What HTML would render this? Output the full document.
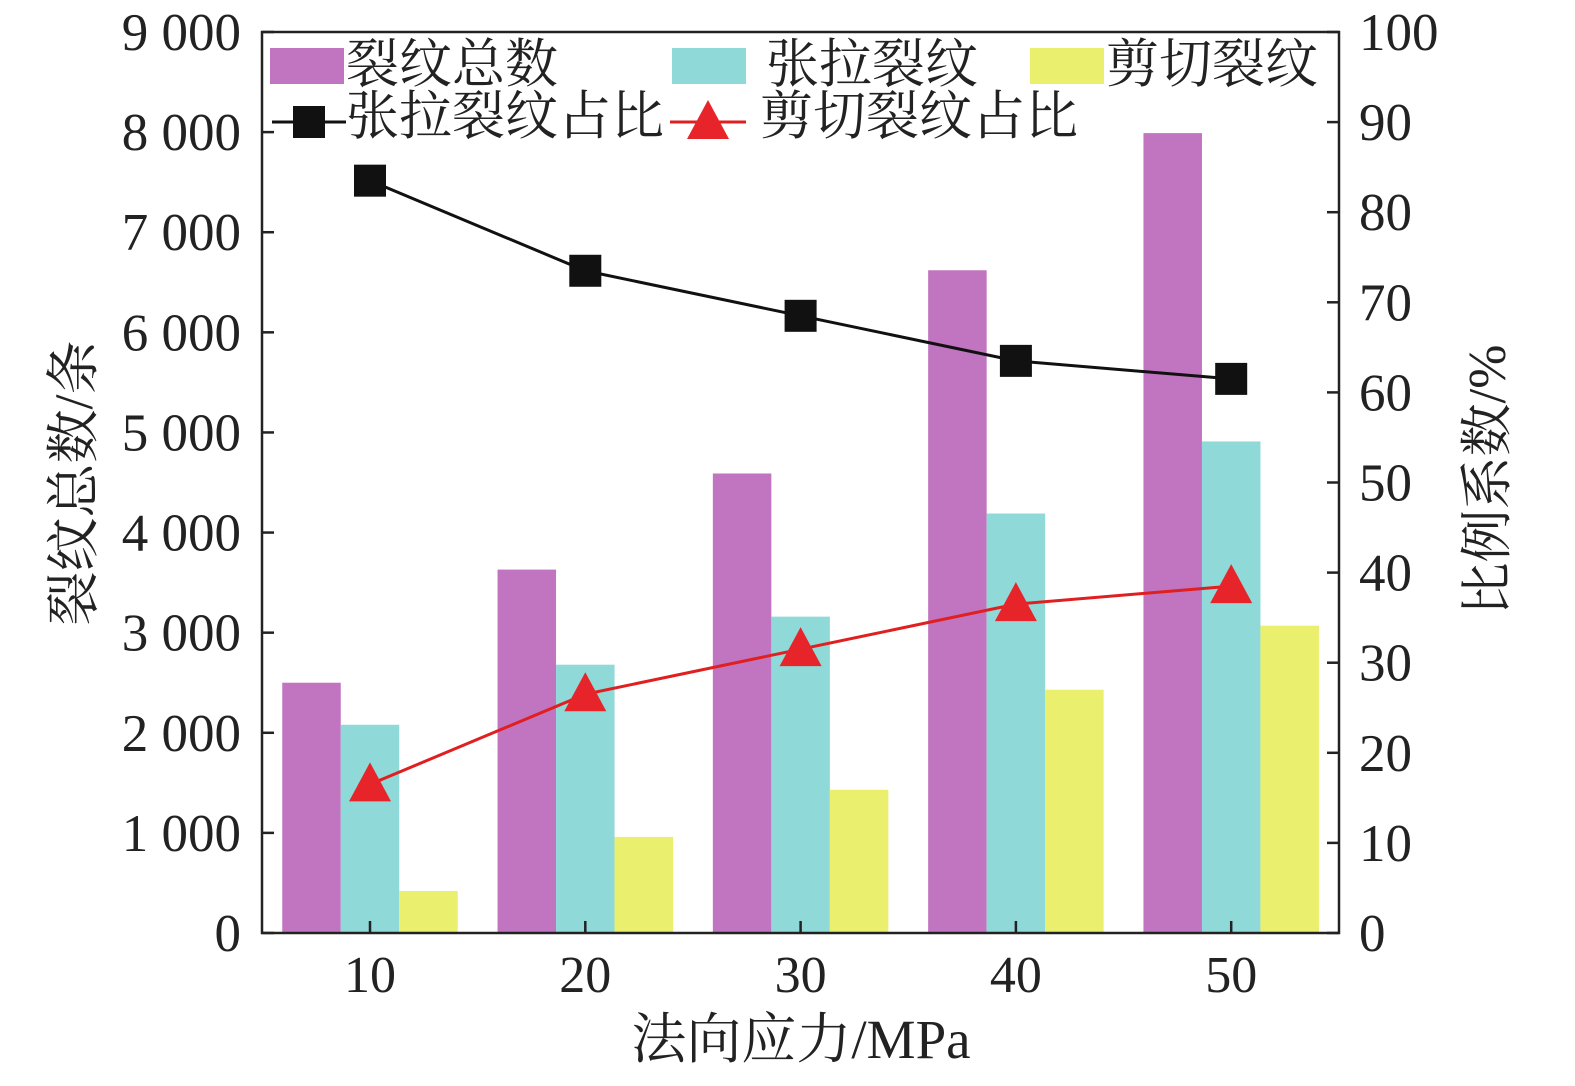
<!DOCTYPE html>
<html><head><meta charset="utf-8"><style>
html,body{margin:0;padding:0;background:#fff;}
svg text{font-family:"Liberation Serif","Noto Serif CJK SC",serif;fill:#222;}
</style></head><body>
<svg id="chart" width="1575" height="1081" xmlns="http://www.w3.org/2000/svg">
<g id="bars"></g>
<g id="lines"></g>
<g id="axes"></g>
<g id="legend"></g>
</svg>
<script>
const categories=[10,20,30,40,50];
const totalCracks=[2500,3630,4590,6620,7990];
const tensileCracks=[2080,2680,3160,4190,4910];
const shearCracks=[420,960,1430,2430,3070];
const tensileRatio=[83.5,73.5,68.5,63.5,61.5];
const shearRatio=[16.5,26.5,31.5,36.5,38.5];
const leftTicks=[0,1000,2000,3000,4000,5000,6000,7000,8000,9000];
const leftTickLabels=["0","1 000","2 000","3 000","4 000","5 000","6 000","7 000","8 000","9 000"];
const rightTicks=[0,10,20,30,40,50,60,70,80,90,100];

const NS="http://www.w3.org/2000/svg";
const L=262,R=1339,T=32,B=933;
const xPos=i=>370+i*215.3;
const yL=v=>B-(v/9000)*(B-T);
const yR=v=>B-(v/100)*(B-T);
function mk(tag,attrs,parent,text){const e=document.createElementNS(NS,tag);for(const k in attrs)e.setAttribute(k,attrs[k]);if(text!==undefined)e.textContent=text;parent.appendChild(e);return e;}
const bars=document.getElementById('bars'),lines=document.getElementById('lines'),axes=document.getElementById('axes'),legend=document.getElementById('legend');
const bw=58.5;
const series=[[totalCracks,'#c174c0',-1.5,'bar-total'],[tensileCracks,'#8fd9d8',-0.5,'bar-tensile'],[shearCracks,'#eaf06e',0.5,'bar-shear']];
series.forEach(s=>{s[0].forEach((v,i)=>{
 const r=mk('rect',{x:xPos(i)+s[2]*bw,y:yL(v),width:bw,height:B-yL(v),fill:s[1]},bars);
 
 
});});
function poly(vals,color,name){
 const p=mk('polyline',{points:vals.map((v,i)=>xPos(i)+','+yR(v)).join(' '),fill:'none',stroke:color,'stroke-width':3},lines);
 
 
}
poly(tensileRatio,'#111','tensile-ratio-line');
poly(shearRatio,'#e02020','shear-ratio-line');
tensileRatio.forEach((v,i)=>{const r=mk('rect',{x:xPos(i)-16,y:yR(v)-16,width:32,height:32,fill:'#111'},lines);
 
 });
shearRatio.forEach((v,i)=>{const x=xPos(i),y=yR(v);const t=mk('polygon',{points:`${x},${y-22} ${x-21},${y+17} ${x+21},${y+17}`,fill:'#e8242b'},lines);
 
 });
const f=mk('rect',{x:L,y:T,width:R-L,height:B-T,fill:'none',stroke:'#222','stroke-width':2.5},axes);


leftTicks.forEach((v,i)=>{const y=yL(v);
 mk('line',{x1:L,x2:L+12,y1:y,y2:y,stroke:'#222','stroke-width':2.5},axes);
 const t=mk('text',{x:241,y:y+18,'text-anchor':'end','font-size':53},axes,leftTickLabels[i]);
 
 });
rightTicks.forEach(v=>{const y=yR(v);
 mk('line',{x1:R-12,x2:R,y1:y,y2:y,stroke:'#222','stroke-width':2.5},axes);
 const t=mk('text',{x:1359,y:y+18,'font-size':53},axes,String(v));
 
 });
categories.forEach((c,i)=>{const x=xPos(i);
 mk('line',{x1:x,x2:x,y1:B,y2:B-12,stroke:'#222','stroke-width':2.5},axes);
 const t=mk('text',{x:x,y:992,'text-anchor':'middle','font-size':52},axes,String(c));
 
 });
let t=mk('text',{x:801,y:1058,'text-anchor':'middle','font-size':55},axes,'法向应力/MPa');

t=mk('text',{x:0,y:0,'text-anchor':'middle','font-size':54,transform:'translate(92,483) rotate(-90)'},axes,'裂纹总数/条');

t=mk('text',{x:0,y:0,'text-anchor':'middle','font-size':53,transform:'translate(1505,480) rotate(-90)'},axes,'比例系数/%');

function legRect(x,color,label,tx,name){const g=mk('g',{},legend);
 mk('rect',{x:x,y:48,width:74,height:36,fill:color},g);mk('text',{x:tx,y:82,'font-size':53},g,label);}
legRect(270,'#c174c0','裂纹总数',346,'legend-total');
legRect(672,'#8fd9d8','张拉裂纹',766,'legend-tensile');
legRect(1030,'#eaf06e','剪切裂纹',1106,'legend-shear');
let g=mk('g',{},legend);
mk('line',{x1:272,x2:346,y1:122,y2:122,stroke:'#111','stroke-width':3},g);
mk('rect',{x:293,y:106,width:32,height:32,fill:'#111'},g);
mk('text',{x:346,y:134,'font-size':53},g,'张拉裂纹占比');
g=mk('g',{},legend);
mk('line',{x1:670,x2:746,y1:122,y2:122,stroke:'#e02020','stroke-width':3},g);
mk('polygon',{points:'708,100 687,139 729,139',fill:'#e8242b'},g);
mk('text',{x:760,y:134,'font-size':53},g,'剪切裂纹占比');
</script>
</body></html>
